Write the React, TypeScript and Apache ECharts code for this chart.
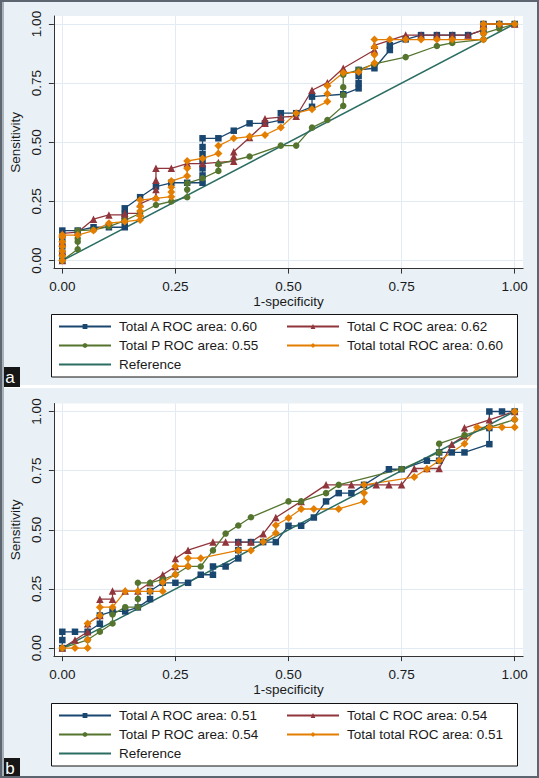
import React, { useEffect, useRef } from "react";
import * as echarts from "echarts";

type Pt = [number, number];

const xTicks = [0, 0.25, 0.5, 0.75, 1];
const yTicks = [0, 0.25, 0.5, 0.75, 1];
const xTitle = "1-specificity";
const yTitle = "Sensitivity";
const panelLabels = ["a", "b"];

const namesA = [
  "Total A ROC area: 0.60",
  "Total C ROC area: 0.62",
  "Total P ROC area: 0.55",
  "Total total ROC area: 0.60",
];
const namesB = [
  "Total A ROC area: 0.51",
  "Total C ROC area: 0.54",
  "Total P ROC area: 0.54",
  "Total total ROC area: 0.51",
];
const refName = "Reference";
const refLine: Pt[] = [[0, 0], [1, 1]];

// Panel a
const aTotalA: Pt[] = [
  [0, 0], [0, 0.03], [0, 0.06], [0, 0.09], [0, 0.127], [0.034, 0.127], [0.069, 0.141], [0.103, 0.141], [0.138, 0.141],
  [0.138, 0.169], [0.138, 0.197], [0.138, 0.221], [0.172, 0.268], [0.207, 0.313], [0.241, 0.329], [0.276, 0.329],
  [0.31, 0.329], [0.31, 0.36], [0.31, 0.39], [0.31, 0.42], [0.31, 0.45], [0.31, 0.48], [0.31, 0.517], [0.345, 0.517],
  [0.379, 0.549], [0.414, 0.58], [0.448, 0.58], [0.483, 0.594], [0.483, 0.623], [0.517, 0.623], [0.552, 0.65],
  [0.552, 0.693], [0.621, 0.703], [0.655, 0.728], [0.655, 0.75], [0.655, 0.78], [0.655, 0.806], [0.69, 0.813],
  [0.724, 0.89], [0.724, 0.91], [0.759, 0.935], [0.793, 0.953], [0.828, 0.953], [0.862, 0.953], [0.897, 0.953],
  [0.931, 0.975], [0.931, 1], [0.966, 1], [1, 1],
];
const aTotalC: Pt[] = [
  [0, 0], [0, 0.04], [0, 0.08], [0, 0.115], [0.034, 0.12], [0.069, 0.175], [0.103, 0.193], [0.138, 0.193],
  [0.138, 0.2], [0.172, 0.2], [0.172, 0.24], [0.207, 0.27], [0.207, 0.3], [0.207, 0.34], [0.207, 0.39], [0.241, 0.39],
  [0.276, 0.41], [0.31, 0.41], [0.345, 0.415], [0.379, 0.42], [0.379, 0.44], [0.379, 0.46], [0.414, 0.52],
  [0.448, 0.58], [0.448, 0.6], [0.483, 0.606], [0.517, 0.61], [0.552, 0.72], [0.586, 0.752], [0.621, 0.813],
  [0.69, 0.89], [0.69, 0.91], [0.759, 0.953], [0.793, 0.953], [0.828, 0.953], [0.862, 0.953], [0.897, 0.953],
  [0.931, 0.975], [0.931, 1], [0.966, 1], [1, 1],
];
const aTotalP: Pt[] = [
  [0, 0], [0.034, 0.048], [0.034, 0.08], [0.034, 0.094], [0.034, 0.127], [0.069, 0.13], [0.103, 0.144],
  [0.138, 0.169], [0.172, 0.2], [0.207, 0.235], [0.241, 0.25], [0.276, 0.268], [0.276, 0.3], [0.276, 0.327],
  [0.31, 0.348], [0.345, 0.379], [0.345, 0.408], [0.414, 0.44], [0.483, 0.486], [0.517, 0.486], [0.552, 0.562],
  [0.586, 0.594], [0.621, 0.654], [0.621, 0.7], [0.621, 0.733], [0.621, 0.786], [0.655, 0.806], [0.69, 0.831],
  [0.759, 0.86], [0.828, 0.907], [0.862, 0.92], [0.931, 0.935], [0.931, 0.96], [0.966, 0.98], [1, 1],
];
const aTotalT: Pt[] = [
  [0, 0], [0, 0.02], [0, 0.04], [0, 0.06], [0, 0.08], [0, 0.1], [0, 0.108], [0.034, 0.108], [0.069, 0.127],
  [0.103, 0.158], [0.138, 0.165], [0.172, 0.172], [0.172, 0.19], [0.172, 0.21], [0.172, 0.23], [0.172, 0.256],
  [0.207, 0.263], [0.241, 0.27], [0.241, 0.29], [0.241, 0.31], [0.241, 0.336], [0.276, 0.358], [0.276, 0.39],
  [0.276, 0.421], [0.31, 0.432], [0.345, 0.453], [0.345, 0.485], [0.379, 0.517], [0.414, 0.524], [0.448, 0.531],
  [0.483, 0.563], [0.517, 0.623], [0.552, 0.64], [0.586, 0.672], [0.586, 0.705], [0.586, 0.739], [0.621, 0.794],
  [0.655, 0.797], [0.69, 0.835], [0.69, 0.87], [0.69, 0.903], [0.69, 0.934], [0.724, 0.934], [0.759, 0.934],
  [0.793, 0.934], [0.828, 0.934], [0.862, 0.934], [0.931, 0.934], [0.931, 0.96], [0.931, 0.98], [0.931, 1],
  [0.966, 1], [1, 1],
];

// Panel b
const bTotalA: Pt[] = [
  [0, 0], [0, 0.034], [0, 0.069], [0.028, 0.069], [0.056, 0.069], [0.083, 0.103], [0.083, 0.138], [0.111, 0.155],
  [0.139, 0.155], [0.167, 0.172], [0.194, 0.207], [0.194, 0.241], [0.222, 0.276], [0.25, 0.276], [0.278, 0.276],
  [0.306, 0.31], [0.333, 0.31], [0.333, 0.345], [0.361, 0.345], [0.389, 0.379], [0.389, 0.414], [0.389, 0.448],
  [0.417, 0.448], [0.444, 0.448], [0.472, 0.448], [0.5, 0.517], [0.528, 0.517], [0.556, 0.552], [0.583, 0.62],
  [0.611, 0.655], [0.639, 0.655], [0.667, 0.69], [0.722, 0.756], [0.75, 0.756], [0.806, 0.792], [0.833, 0.792],
  [0.833, 0.827], [0.861, 0.827], [0.889, 0.827], [0.944, 0.862], [0.944, 0.93], [0.944, 1], [0.972, 1], [1, 1],
];
const bTotalC: Pt[] = [
  [0, 0], [0.028, 0.034], [0.056, 0.069], [0.056, 0.103], [0.083, 0.138], [0.083, 0.207], [0.111, 0.207],
  [0.111, 0.241], [0.139, 0.241], [0.167, 0.241], [0.194, 0.276], [0.222, 0.31], [0.25, 0.345], [0.25, 0.379],
  [0.278, 0.414], [0.333, 0.448], [0.361, 0.448], [0.389, 0.448], [0.417, 0.448], [0.444, 0.483], [0.472, 0.552],
  [0.528, 0.62], [0.583, 0.69], [0.639, 0.69], [0.694, 0.69], [0.722, 0.69], [0.75, 0.69], [0.778, 0.759],
  [0.806, 0.759], [0.833, 0.759], [0.861, 0.862], [0.889, 0.897], [0.889, 0.931], [0.944, 0.965], [1, 1],
];
const bTotalP: Pt[] = [
  [0, 0], [0.056, 0.035], [0.083, 0.069], [0.111, 0.104], [0.111, 0.142], [0.139, 0.173], [0.167, 0.173],
  [0.167, 0.208], [0.167, 0.276], [0.194, 0.276], [0.222, 0.29], [0.25, 0.311], [0.278, 0.345], [0.306, 0.345],
  [0.333, 0.413], [0.361, 0.484], [0.389, 0.518], [0.417, 0.553], [0.5, 0.62], [0.528, 0.62], [0.583, 0.655],
  [0.611, 0.69], [0.75, 0.757], [0.833, 0.827], [0.833, 0.864], [0.889, 0.9], [1, 0.966], [1, 1],
];
const bTotalT: Pt[] = [
  [0, 0], [0.028, 0], [0.056, 0], [0.056, 0.035], [0.056, 0.104], [0.083, 0.138], [0.083, 0.173], [0.111, 0.173],
  [0.139, 0.24], [0.167, 0.24], [0.194, 0.24], [0.222, 0.24], [0.222, 0.278], [0.25, 0.311], [0.25, 0.346],
  [0.278, 0.346], [0.278, 0.38], [0.306, 0.38], [0.389, 0.413], [0.417, 0.413], [0.444, 0.449], [0.472, 0.487],
  [0.472, 0.519], [0.5, 0.55], [0.528, 0.588], [0.556, 0.588], [0.611, 0.588], [0.667, 0.62], [0.667, 0.656],
  [0.667, 0.69], [0.778, 0.723], [0.806, 0.757], [0.833, 0.792], [0.889, 0.864], [0.917, 0.933], [0.944, 0.933],
  [0.972, 0.933], [1, 0.933], [1, 0.966], [1, 1],
];

const FONT = '"Liberation Sans", Arial, Helvetica, sans-serif';
const TXT = "#1a1a1a";
const COLORS = { A: "#1a476f", C: "#90353b", P: "#55752f", T: "#e37e00", R: "#2b6d62" };
const SYMBOLS = { A: "rect", C: "triangle", P: "circle", T: "diamond" };
const SIZES = { A: 6.5, C: 7.5, P: 6.5, T: 8 };

const W = 539;
const H = 778;
const XPAD = 0.0186;
const YPAD = 0.0338;

function mkX(gridIndex: number) {
  return {
    type: "value",
    gridIndex,
    min: -XPAD,
    max: 1 + XPAD,
    name: xTitle,
    nameLocation: "middle",
    nameGap: 22,
    nameTextStyle: { fontSize: 13.5, color: TXT, fontFamily: FONT },
    axisLine: { show: true, onZero: false, lineStyle: { color: "#333", width: 1 } },
    axisTick: { show: true, length: 5, lineStyle: { color: "#333" }, customValues: xTicks },
    axisLabel: {
      customValues: xTicks,
      formatter: (v: number) => v.toFixed(2),
      margin: 11,
      fontSize: 13.5,
      color: TXT,
      fontFamily: FONT,
    },
    splitLine: { show: true, lineStyle: { color: "#e2ebf3", width: 1 } },
  };
}
function mkY(gridIndex: number) {
  return {
    type: "value",
    gridIndex,
    min: -YPAD,
    max: 1 + YPAD,
    name: yTitle,
    nameLocation: "middle",
    nameRotate: 90,
    nameGap: 24,
    nameTextStyle: { fontSize: 13.5, color: TXT, fontFamily: FONT },
    axisLine: { show: true, onZero: false, lineStyle: { color: "#333", width: 1 } },
    axisTick: { show: true, length: 5, lineStyle: { color: "#333" }, customValues: yTicks },
    axisLabel: {
      customValues: yTicks,
      rotate: 90,
      formatter: (v: number) => v.toFixed(2),
      margin: 10,
      fontSize: 13.5,
      color: TXT,
      fontFamily: FONT,
    },
    splitLine: { show: true, lineStyle: { color: "#e2ebf3", width: 1 } },
  };
}

function mkSeries(name: string, data: Pt[], key: "A" | "C" | "P" | "T", idx: number) {
  return {
    type: "line",
    name,
    data,
    xAxisIndex: idx,
    yAxisIndex: idx,
    symbol: SYMBOLS[key],
    symbolSize: SIZES[key],
    showSymbol: true,
    color: COLORS[key],
    lineStyle: { width: 1.3, color: COLORS[key] },
    itemStyle: { color: COLORS[key] },
    emphasis: { disabled: true },
    silent: true,
  };
}
function mkRef(idx: number) {
  return {
    type: "line",
    name: refName,
    data: refLine,
    xAxisIndex: idx,
    yAxisIndex: idx,
    symbol: "none",
    color: COLORS.R,
    lineStyle: { width: 1.5, color: COLORS.R },
    itemStyle: { color: COLORS.R },
    emphasis: { disabled: true },
    silent: true,
  };
}

const legendBase = {
  orient: "vertical",
  itemWidth: 52,
  itemHeight: 6,
  itemGap: 5,
  padding: 0,
  selectedMode: false,
  textStyle: { fontSize: 13.5, color: TXT, fontFamily: FONT, lineHeight: 14, padding: [0, 0, 0, 3] },
};

export default function App() {
  const ref = useRef<HTMLDivElement>(null);
  useEffect(() => {
    if (!ref.current) return;
    const chart = echarts.init(ref.current, null, { renderer: "svg", width: W, height: H });

    const panels = [
      { top: 0, h: 385, gridTop: 16, legTop: 314.5, legH: 62.5, lab: 367 },
      { top: 388, h: 390, gridTop: 403.5, legTop: 703.5, legH: 62.5, lab: 758 },
    ];

    const graphic: any[] = [];
    panels.forEach((p, i) => {
      graphic.push({
        type: "rect", z: -10, silent: true,
        shape: { x: 0, y: p.top, width: W, height: p.h },
        style: { fill: "#e9f1f7" },
      });
      graphic.push({
        type: "rect", z: 3, silent: true,
        shape: { x: 51.5, y: p.legTop, width: 466, height: p.legH },
        style: { fill: "#ffffff", stroke: "#111111", lineWidth: 1 },
      });
      graphic.push({
        type: "rect", z: 6, silent: true,
        shape: { x: 0, y: p.lab, width: 20, height: 20 },
        style: { fill: "#161616" },
      });
      graphic.push({
        type: "text", z: 7, silent: true,
        x: 10, y: p.lab + 10,
        style: {
          text: panelLabels[i], fill: "#ffffff", fontSize: 17, fontFamily: FONT,
          align: "center", verticalAlign: "middle",
        },
      });
    });
    // outer frame
    graphic.push({
      type: "rect", z: 8, silent: true,
      shape: { x: 0, y: 0, width: 4, height: H },
      style: { fill: "#a9b1b8" },
    });
    graphic.push({
      type: "rect", z: 8, silent: true,
      shape: { x: 1, y: 1, width: W - 2, height: H - 2 },
      style: { fill: "none", stroke: "#5d6670", lineWidth: 2 },
    });

    const option: any = {
      animation: false,
      backgroundColor: "#ffffff",
      textStyle: { fontFamily: FONT },
      grid: panels.map((p) => ({
        left: 48.3,
        top: p.gridTop,
        width: 474.8,
        height: 252.6,
        show: true,
        backgroundColor: "#ffffff",
        borderWidth: 0,
        containLabel: false,
      })),
      xAxis: [mkX(0), mkX(1)],
      yAxis: [mkY(0), mkY(1)],
      legend: [
        { ...legendBase, left: 58, top: 319.5, data: [namesA[0], namesA[2], { name: refName, itemStyle: { opacity: 0 } }] },
        { ...legendBase, left: 286, top: 319.5, data: [namesA[1], namesA[3]] },
        { ...legendBase, left: 58, top: 708.5, data: [namesB[0], namesB[2], { name: refName, itemStyle: { opacity: 0 } }] },
        { ...legendBase, left: 286, top: 708.5, data: [namesB[1], namesB[3]] },
      ],
      graphic,
      series: [
        mkSeries(namesA[0], aTotalA, "A", 0),
        mkSeries(namesA[1], aTotalC, "C", 0),
        mkSeries(namesA[2], aTotalP, "P", 0),
        mkSeries(namesA[3], aTotalT, "T", 0),
        mkRef(0),
        mkSeries(namesB[0], bTotalA, "A", 1),
        mkSeries(namesB[1], bTotalC, "C", 1),
        mkSeries(namesB[2], bTotalP, "P", 1),
        mkSeries(namesB[3], bTotalT, "T", 1),
        mkRef(1),
      ],
    };
    chart.setOption(option);
    return () => chart.dispose();
  }, []);

  return (
    <div
      ref={ref}
      style={{ position: "absolute", left: 0, top: 0, width: W, height: H, background: "#ffffff" }}
    />
  );
}
